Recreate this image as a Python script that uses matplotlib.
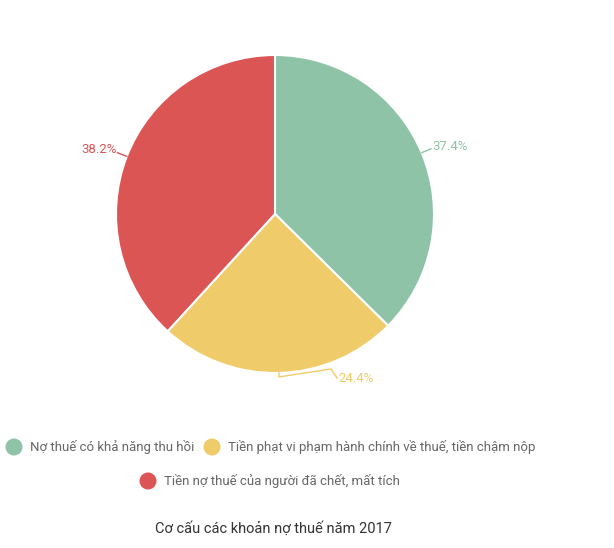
import matplotlib.pyplot as plt
import numpy as np

plt.rcParams['font.family'] = ['Roboto', 'DejaVu Sans']

categories = ['Nợ thuế có khả năng thu hồi',
              'Tiền phạt vi phạm hành chính về thuế, tiền chậm nộp',
              'Tiền nợ thuế của người đã chết, mất tích']
values = [37.4, 24.4, 38.2]
colors = ['#8ec3a7', '#f0cb69', '#dc5555']
title = 'Cơ cấu các khoản nợ thuế năm 2017'

W, H = 614, 548
fig = plt.figure(figsize=(W / 100, H / 100), dpi=100)
ax = fig.add_axes([0, 0, 1, 1])

cx, cy, r = 275, 548 - 214, 159
wedges, _ = ax.pie(values, colors=colors, startangle=90, counterclock=False,
                   center=(cx, cy), radius=r,
                   wedgeprops=dict(edgecolor='white', linewidth=1.5))
ax.set_xlim(0, W)
ax.set_ylim(0, H)
ax.set_aspect('equal')
ax.axis('off')

for w, v, c in zip(wedges, values, colors):
    mid = np.deg2rad((w.theta1 + w.theta2) / 2)
    x0, y0 = cx + r * np.cos(mid), cy + r * np.sin(mid)
    lbl = '%.1f%%' % v
    if np.sin(mid) < -0.9:
        # bottom label routed to the right
        xs = [x0, x0, x0 + 52, x0 + 58]
        ys = [y0, y0 - 4, y0 + 4, y0 - 5]
        ax.plot(xs, ys, color=c, lw=1)
        ax.text(xs[-1] + 1, ys[-1] - 1, lbl, color=c, fontsize=9.5,
                ha='left', va='center')
    else:
        x1, y1 = cx + (r + 10) * np.cos(mid), cy + (r + 10) * np.sin(mid)
        ax.plot([x0, x1], [y0, y1], color=c, lw=1)
        if np.cos(mid) > 0:
            ax.text(x1 + 1, y1 + 2, lbl, color=c, fontsize=9.5,
                    ha='left', va='center')
        else:
            ax.text(x1 - 1, y1 + 3, lbl, color=c, fontsize=9.5,
                    ha='right', va='center')

# legend
leg_pos = [(14, 548 - 447), (212, 548 - 447), (148, 548 - 481)]
for (lx, ly), name, c in zip(leg_pos, categories, colors):
    ax.scatter([lx], [ly], s=150, color=c, edgecolors='none')
    ax.text(lx + 16, ly, name, color='#666666', fontsize=9.5,
            ha='left', va='center')

ax.text(273, 548 - 529, title, color='#333333', fontsize=10.5,
        ha='center', va='center')

fig.savefig('out.png', dpi=100)
